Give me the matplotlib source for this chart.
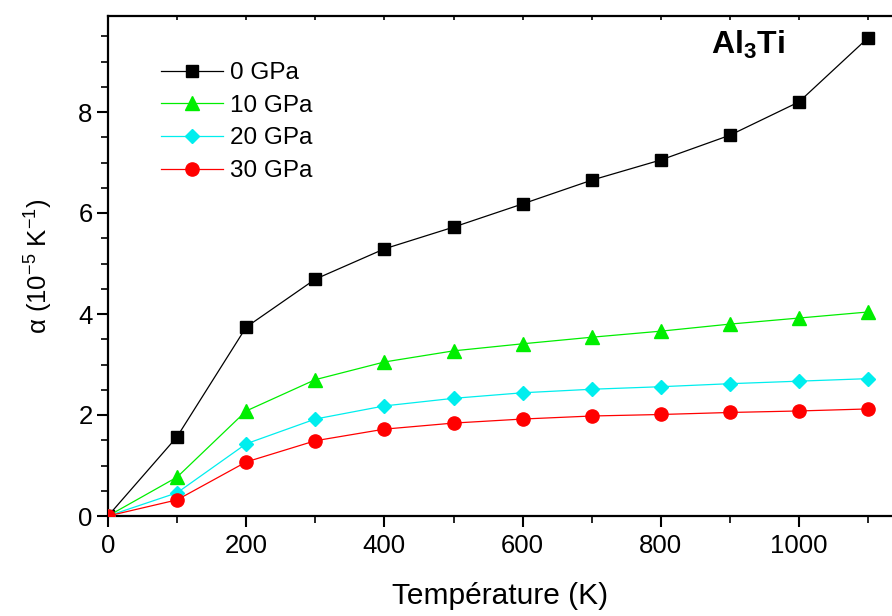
import matplotlib
matplotlib.use("Agg")
import matplotlib.pyplot as plt
from matplotlib.ticker import MultipleLocator

plt.rcParams['font.family'] = ['Liberation Sans', 'DejaVu Sans']
plt.rcParams['mathtext.fontset'] = 'custom'
plt.rcParams['mathtext.rm'] = 'Liberation Sans'
plt.rcParams['mathtext.it'] = 'Liberation Sans:italic'
plt.rcParams['mathtext.bf'] = 'Liberation Sans:bold'

temperature = [0, 100, 200, 300, 400, 500, 600, 700, 800, 900, 1000, 1100]
alpha_0GPa = [0, 1.57, 3.74, 4.69, 5.29, 5.72, 6.18, 6.65, 7.05, 7.54, 8.20, 9.47]
alpha_10GPa = [0, 0.77, 2.08, 2.70, 3.05, 3.27, 3.41, 3.54, 3.66, 3.80, 3.92, 4.04]
alpha_20GPa = [0, 0.46, 1.43, 1.92, 2.18, 2.33, 2.44, 2.51, 2.56, 2.62, 2.67, 2.72]
alpha_30GPa = [0, 0.32, 1.07, 1.49, 1.72, 1.84, 1.92, 1.98, 2.01, 2.05, 2.08, 2.12]
labels = ['0 GPa', '10 GPa', '20 GPa', '30 GPa']

W, H = 892, 616
fig = plt.figure(figsize=(W / 100, H / 100), dpi=100)
ax = fig.add_axes([108 / W, (H - 516) / H, (W - 108) / W, 500 / H])

series = [alpha_0GPa, alpha_10GPa, alpha_20GPa, alpha_30GPa]
colors = ['black', '#00ee00', '#00eeee', '#ff0000']
markers = ['s', '^', 'D', 'o']
msizes = [8.5, 10, 7.5, 9.5]
for vals, c, m, ms, lab in zip(series, colors, markers, msizes, labels):
    ax.plot(temperature, vals, color=c, lw=0.9, marker=m, ms=ms,
            markeredgecolor=c, label=lab, zorder=3)

ax.set_xlim(0, 784 / 0.691)
ax.set_ylim(0, 500 / 50.5)

ax.xaxis.set_major_locator(MultipleLocator(200))
ax.xaxis.set_minor_locator(MultipleLocator(100))
ax.yaxis.set_major_locator(MultipleLocator(2))
ax.yaxis.set_minor_locator(MultipleLocator(0.5))

ax.spines['right'].set_visible(False)
for s in ['left', 'bottom', 'top']:
    ax.spines[s].set_linewidth(1.6)

ax.tick_params(axis='both', which='major', direction='out', length=8, width=1.5,
               labelsize=18.5, top=False, right=False)
ax.tick_params(axis='both', which='minor', direction='out', length=5, width=1.2,
               top=False, right=False)
ax.tick_params(axis='x', which='major', pad=5)
ax.tick_params(axis='y', which='major', pad=3)

# top ticks inward at every 100
sec = ax.secondary_xaxis('top')
sec.set_xticks(temperature)
sec.tick_params(direction='in', length=3, width=1.2, labeltop=False)
sec.spines['top'].set_visible(False)

ax.set_xlabel('Température (K)', fontsize=21.5, labelpad=17)
ax.set_ylabel('α (10$^{-5}$ K$^{-1}$)', fontsize=18.5, labelpad=17)

ax.text(748 / W, (H - 45) / H, r'$\mathbf{Al_3Ti}$', transform=fig.transFigure,
        fontsize=23, ha='center', va='center')

leg = ax.legend(loc='upper left', bbox_to_anchor=(161 / W, (H - 62) / H),
                bbox_transform=fig.transFigure, frameon=False,
                fontsize=17.5, handlelength=2.55, labelspacing=0.44,
                handletextpad=0.3, borderpad=0, borderaxespad=0)

fig.savefig('out.png', dpi=100)
